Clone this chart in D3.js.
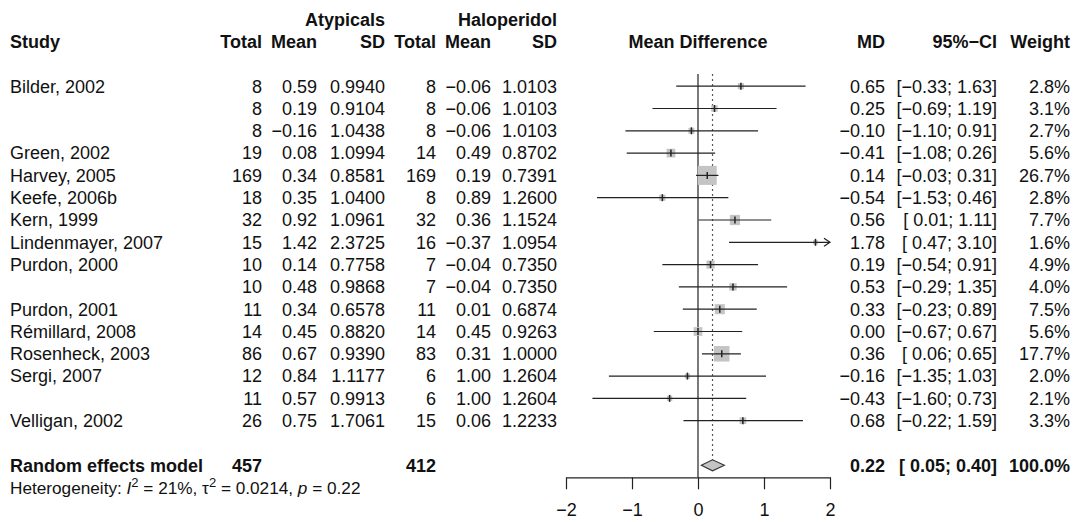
<!DOCTYPE html>
<html>
<head>
<meta charset="utf-8">
<script src="https://cdn.jsdelivr.net/npm/d3@7"></script>
<style>
  html, body { margin: 0; padding: 0; background: #fff; }
  svg { display: block; font-family: "Liberation Sans", Arial, Helvetica, sans-serif; }
</style>
</head>
<body>
<svg id="chart" width="1078" height="522"></svg>
<script>
// Study-level data: atypical antipsychotics vs haloperidol
const studyLabels = ["Bilder, 2002", "", "", "Green, 2002", "Harvey, 2005", "Keefe, 2006b",
  "Kern, 1999", "Lindenmayer, 2007", "Purdon, 2000", "", "Purdon, 2001", "Rémillard, 2008",
  "Rosenheck, 2003", "Sergi, 2007", "", "Velligan, 2002"];
const expTotal  = [8, 8, 8, 19, 169, 18, 32, 15, 10, 10, 11, 14, 86, 12, 11, 26];
const expMean   = [0.59, 0.19, -0.16, 0.08, 0.34, 0.35, 0.92, 1.42, 0.14, 0.48, 0.34, 0.45, 0.67, 0.84, 0.57, 0.75];
const expSD     = [0.9940, 0.9104, 1.0438, 1.0994, 0.8581, 1.0400, 1.0961, 2.3725, 0.7758, 0.9868, 0.6578, 0.8820, 0.9390, 1.1177, 0.9913, 1.7061];
const ctrlTotal = [8, 8, 8, 14, 169, 8, 32, 16, 7, 7, 11, 14, 83, 6, 6, 15];
const ctrlMean  = [-0.06, -0.06, -0.06, 0.49, 0.19, 0.89, 0.36, -0.37, -0.04, -0.04, 0.01, 0.45, 0.31, 1.00, 1.00, 0.06];
const ctrlSD    = [1.0103, 1.0103, 1.0103, 0.8702, 0.7391, 1.2600, 1.1524, 1.0954, 0.7350, 0.7350, 0.6874, 0.9263, 1.0000, 1.2604, 1.2604, 1.2233];
const md        = [0.65, 0.25, -0.10, -0.41, 0.14, -0.54, 0.56, 1.78, 0.19, 0.53, 0.33, 0.00, 0.36, -0.16, -0.43, 0.68];
const ciLower   = [-0.33, -0.69, -1.10, -1.08, -0.03, -1.53, 0.01, 0.47, -0.54, -0.29, -0.23, -0.67, 0.06, -1.35, -1.60, -0.22];
const ciUpper   = [1.63, 1.19, 0.91, 0.26, 0.31, 0.46, 1.11, 3.10, 0.91, 1.35, 0.89, 0.67, 0.65, 1.03, 0.73, 1.59];
const weights   = [2.8, 3.1, 2.7, 5.6, 26.7, 2.8, 7.7, 1.6, 4.9, 4.0, 7.5, 5.6, 17.7, 2.0, 2.1, 3.3];

// Pooled (random effects) result
const pooledLabel = "Random effects model";
const pooledExpTotal = 457;
const pooledCtrlTotal = 412;
const pooledMD = 0.22;
const pooledLower = 0.05;
const pooledUpper = 0.40;
const pooledWeight = 100.0;

const axisTicks = [-2, -1, 0, 1, 2];

const svg = d3.select("#chart");
const FS = 18;

const x = d3.scaleLinear().domain([-2, 2]).range([566, 830]);
const row = d3.scaleLinear().domain([0, 1]).range([86.2, 108.5]);
const boxSide = d3.scaleSqrt().domain([0, d3.max(weights)]).range([0, 19]);

const f2 = d3.format(".2f");
const f4 = d3.format(".4f");
const f1 = d3.format(".1f");
const ciText = (lo, hi) => "[" + (lo >= 0 ? " " : "") + f2(lo) + "; " + f2(hi) + "]";

// Column anchors (right aligned)
const col = { total1: 262, mean1: 317, sd1: 385, total2: 436, mean2: 491, sd2: 557, md: 885, ci: 997, weight: 1070 };

function text(g, xPos, yPos, str, opts = {}) {
  return g.append("text")
    .attr("x", xPos).attr("y", yPos).attr("dy", "0.35em")
    .attr("text-anchor", opts.anchor || "end")
    .attr("font-size", opts.size || FS)
    .attr("font-weight", opts.bold ? "bold" : "normal")
    .attr("fill", "#111")
    .text(str);
}

// Header
const hdr = svg.append("g");
const yGroup = row(-3), yHead = row(-2);
text(hdr, col.sd1, yGroup, "Atypicals", { bold: true });
text(hdr, col.sd2, yGroup, "Haloperidol", { bold: true });
text(hdr, 10, yHead, "Study", { bold: true, anchor: "start" });
text(hdr, col.total1, yHead, "Total", { bold: true });
text(hdr, col.mean1, yHead, "Mean", { bold: true });
text(hdr, col.sd1, yHead, "SD", { bold: true });
text(hdr, col.total2, yHead, "Total", { bold: true });
text(hdr, col.mean2, yHead, "Mean", { bold: true });
text(hdr, col.sd2, yHead, "SD", { bold: true });
text(hdr, x(0), yHead, "Mean Difference", { bold: true, anchor: "middle" });
text(hdr, col.md, yHead, "MD", { bold: true });
text(hdr, col.ci, yHead, "95%−CI", { bold: true });
text(hdr, col.weight, yHead, "Weight", { bold: true });

// Study table rows
const tbl = svg.append("g");
studyLabels.forEach((lab, i) => {
  const yy = row(i);
  if (lab) text(tbl, 10, yy, lab, { anchor: "start" });
  text(tbl, col.total1, yy, String(expTotal[i]));
  text(tbl, col.mean1, yy, f2(expMean[i]));
  text(tbl, col.sd1, yy, f4(expSD[i]));
  text(tbl, col.total2, yy, String(ctrlTotal[i]));
  text(tbl, col.mean2, yy, f2(ctrlMean[i]));
  text(tbl, col.sd2, yy, f4(ctrlSD[i]));
  text(tbl, col.md, yy, f2(md[i]));
  text(tbl, col.ci, yy, ciText(ciLower[i], ciUpper[i]));
  text(tbl, col.weight, yy, f1(weights[i]) + "%");
});

// Pooled row
const yPool = row(studyLabels.length + 1);
text(tbl, 10, yPool, pooledLabel, { anchor: "start", bold: true });
text(tbl, col.total1, yPool, String(pooledExpTotal), { bold: true });
text(tbl, col.total2, yPool, String(pooledCtrlTotal), { bold: true });
text(tbl, col.md, yPool, f2(pooledMD), { bold: true });
text(tbl, col.ci, yPool, ciText(pooledLower, pooledUpper), { bold: true });
text(tbl, col.weight, yPool, f1(pooledWeight) + "%", { bold: true });

// Heterogeneity statistics
const het = svg.append("text")
  .attr("x", 10).attr("y", row(studyLabels.length + 2)).attr("dy", "0.35em")
  .attr("font-size", 17.2).attr("fill", "#111");
het.append("tspan").text("Heterogeneity: ");
het.append("tspan").attr("font-style", "italic").text("I");
het.append("tspan").attr("font-size", 13).attr("dy", -7).text("2");
het.append("tspan").attr("dy", 7).text(" = 21%, τ");
het.append("tspan").attr("font-size", 13).attr("dy", -7).text("2");
het.append("tspan").attr("dy", 7).text(" = 0.0214, ");
het.append("tspan").attr("font-style", "italic").text("p");
het.append("tspan").text(" = 0.22");

// Forest plot
const plot = svg.append("g");
const yTop = 74;
const yAxis = 477.3;

// Line of no effect
plot.append("line")
  .attr("x1", x(0)).attr("x2", x(0)).attr("y1", yTop).attr("y2", yAxis)
  .attr("stroke", "#222").attr("stroke-width", 1.2);

// Pooled estimate reference line
plot.append("line")
  .attr("x1", x(pooledMD)).attr("x2", x(pooledMD)).attr("y1", yTop).attr("y2", yPool - 5)
  .attr("stroke", "#555").attr("stroke-width", 1.2).attr("stroke-dasharray", "2,3");

const [xMin, xMax] = x.domain();

studyLabels.forEach((lab, i) => {
  const yy = row(i);
  const s = boxSide(weights[i]);
  plot.append("rect")
    .attr("x", x(md[i]) - s / 2).attr("y", yy - s / 2)
    .attr("width", s).attr("height", s)
    .attr("fill", "#c4c4c4");
  const lo = Math.max(ciLower[i], xMin), hi = Math.min(ciUpper[i], xMax);
  plot.append("line")
    .attr("x1", x(lo)).attr("x2", x(hi)).attr("y1", yy).attr("y2", yy)
    .attr("stroke", "#222").attr("stroke-width", 1.2);
  plot.append("line")
    .attr("x1", x(md[i])).attr("x2", x(md[i])).attr("y1", yy - 3.5).attr("y2", yy + 3.5)
    .attr("stroke", "#222").attr("stroke-width", 1.5);
  if (ciUpper[i] > xMax) {
    const ax = x(xMax);
    plot.append("path")
      .attr("d", `M${ax - 6},${yy - 4}L${ax},${yy}L${ax - 6},${yy + 4}`)
      .attr("fill", "none").attr("stroke", "#222").attr("stroke-width", 1.2);
  }
  if (ciLower[i] < xMin) {
    const ax = x(xMin);
    plot.append("path")
      .attr("d", `M${ax + 6},${yy - 4}L${ax},${yy}L${ax + 6},${yy + 4}`)
      .attr("fill", "none").attr("stroke", "#222").attr("stroke-width", 1.2);
  }
});

// Pooled diamond
plot.append("path")
  .attr("d", `M${x(pooledLower)},${yPool}L${x(pooledMD)},${yPool - 5.5}L${x(pooledUpper)},${yPool}L${x(pooledMD)},${yPool + 5.5}Z`)
  .attr("fill", "#c4c4c4").attr("stroke", "#333").attr("stroke-width", 1.1);

// Axis
const axis = d3.axisBottom(x)
  .tickValues(axisTicks)
  .tickSizeInner(12).tickSizeOuter(0).tickPadding(14)
  .tickFormat(d3.format("d"));
const ax = svg.append("g").attr("transform", `translate(0,${yAxis})`).call(axis);
ax.select(".domain").attr("stroke", "#222").attr("stroke-width", 1.2);
ax.selectAll(".tick line").attr("stroke", "#222").attr("stroke-width", 1.2);
ax.selectAll(".tick text").attr("font-size", FS).attr("fill", "#111")
  .attr("font-family", "Liberation Sans, Arial, sans-serif");
</script>
</body>
</html>
